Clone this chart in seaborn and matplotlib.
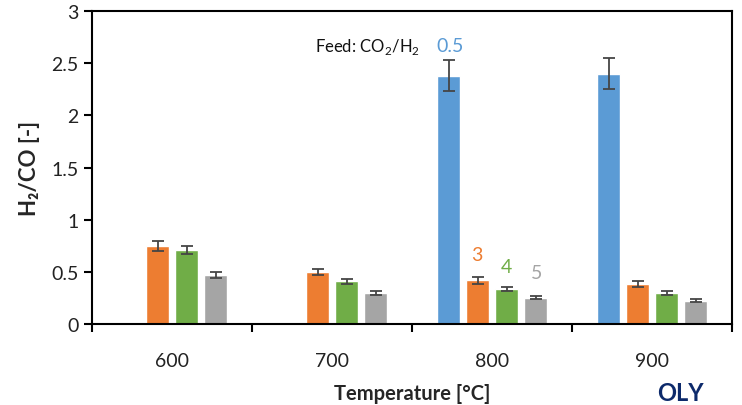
import numpy as np
import pandas as pd
import matplotlib
matplotlib.use("Agg")
import matplotlib.pyplot as plt
import seaborn as sns
from matplotlib.ticker import FixedLocator, FuncFormatter

temperatures = ["600", "700", "800", "900"]
feeds = ["0.5", "3", "4", "5"]
h2co_05 = [np.nan, np.nan, 2.38, 2.40]
h2co_3 = [0.75, 0.50, 0.42, 0.38]
h2co_4 = [0.71, 0.41, 0.335, 0.30]
h2co_5 = [0.47, 0.30, 0.25, 0.225]
err_05 = [np.nan, np.nan, 0.15, 0.145]
err_3 = [0.05, 0.03, 0.035, 0.03]
err_4 = [0.04, 0.025, 0.02, 0.02]
err_5 = [0.03, 0.02, 0.015, 0.015]
colors = ["#5B9BD5", "#ED7D31", "#70AD47", "#A5A5A5"]

vals = [h2co_05, h2co_3, h2co_4, h2co_5]
errs = [err_05, err_3, err_4, err_5]
rows = []
for f, v, e in zip(feeds, vals, errs):
    for t, vv, ee in zip(temperatures, v, e):
        rows.append({"Temperature": t, "Feed": f, "H2CO": vv, "err": ee})
df = pd.DataFrame(rows)

sns.set_style("white")
plt.rcParams["font.family"] = ["Lato", "DejaVu Sans"]
plt.rcParams["mathtext.fontset"] = "custom"
plt.rcParams["mathtext.rm"] = "Lato"

fig = plt.figure(figsize=(7.42, 4.06), dpi=100)
ax = fig.add_axes([92 / 742, 81 / 406, 640 / 742, 313 / 406])

sns.barplot(data=df, x="Temperature", y="H2CO", hue="Feed", order=temperatures,
            hue_order=feeds, palette=colors, width=0.725, gap=0.24,
            errorbar=None, legend=False, ax=ax, saturation=1)

for cont, e in zip(ax.containers, errs):
    for bar in cont:
        h = bar.get_height()
        xc = bar.get_x() + bar.get_width() / 2
        idx = int(round(xc))
        ee = e[idx]
        if np.isnan(h) or np.isnan(ee):
            continue
        ax.errorbar(xc, h, yerr=ee, fmt="none",
                    ecolor="#454545", elinewidth=1.3, capsize=4, capthick=1.3)

ax.set_ylim(0, 3)
ax.set_xlim(-0.5, 3.5)
ax.yaxis.set_major_locator(FixedLocator([0, 0.5, 1, 1.5, 2, 2.5, 3]))
ax.yaxis.set_major_formatter(FuncFormatter(lambda v, p: f"{v:g}"))
ax.xaxis.set_minor_locator(FixedLocator([-0.5, 0.5, 1.5, 2.5, 3.5]))
ax.tick_params(axis="x", which="major", length=0, labelsize=14, pad=20, labelcolor="#222222")
ax.tick_params(axis="x", which="minor", length=6, width=1.5, direction="out", bottom=True, color="black")
ax.tick_params(axis="y", which="major", length=6, width=1.5, direction="out", left=True,
               labelsize=14, color="black", labelcolor="#222222")
for s in ax.spines.values():
    s.set_visible(True)
    s.set_color("black")
    s.set_linewidth(1.5)

ax.set_xlabel("Temperature [°C]", fontsize=14.5, fontweight="bold", labelpad=10)
ax.set_ylabel("H₂/CO [-]", fontsize=16, fontweight="bold", labelpad=8)

ax.text(1.22, 2.665, r"Feed: CO$_2$/H$_2$", fontsize=12, ha="center", va="center", color="#111111")
ax.text(1.74, 2.665, "0.5", fontsize=14, ha="center", va="center", color=colors[0])
ax.text(1.906, 0.67, "3", fontsize=14, ha="center", va="center", color=colors[1])
ax.text(2.09, 0.55, "4", fontsize=14, ha="center", va="center", color=colors[2])
ax.text(2.28, 0.49, "5", fontsize=14, ha="center", va="center", color=colors[3])

fig.text(0.885, 0.002, "OLY", fontsize=17, fontweight="bold", color="#0D2A6B",
         ha="left", va="bottom")

fig.savefig("out.png", dpi=100)
